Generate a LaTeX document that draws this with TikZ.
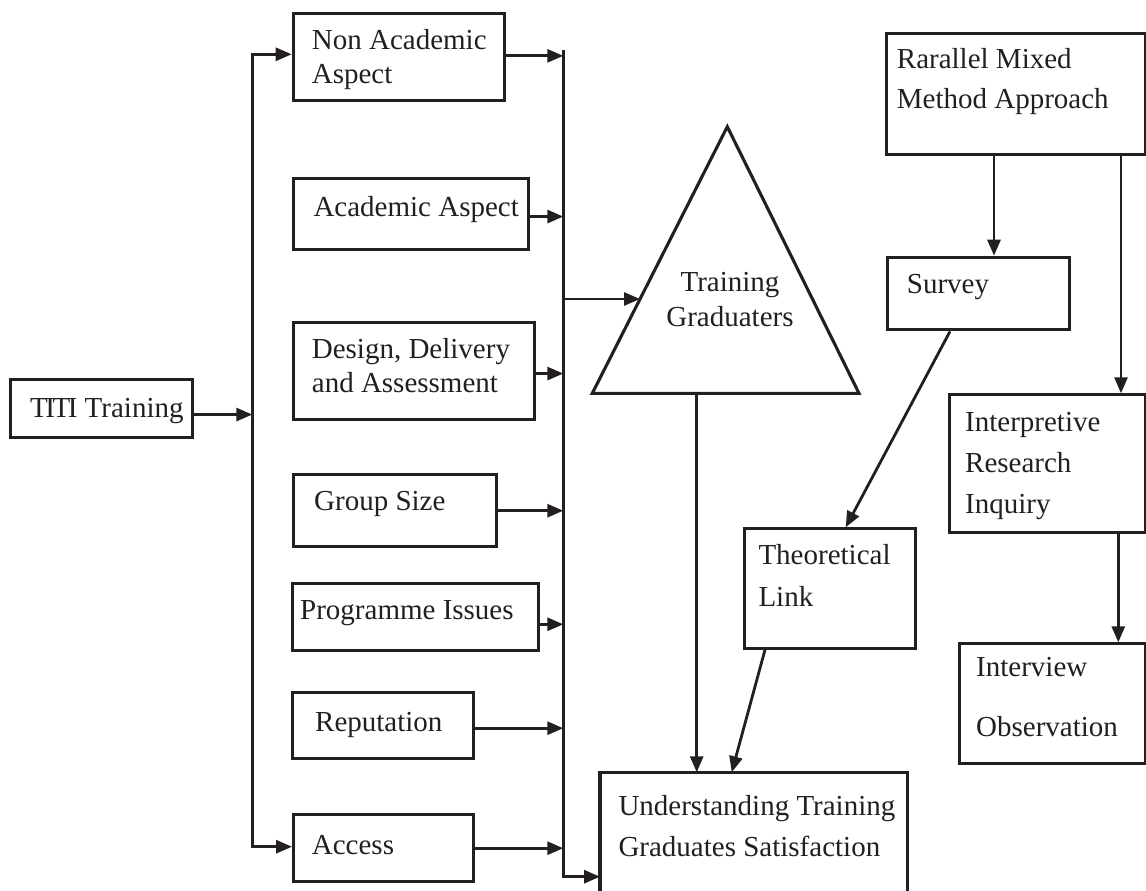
\documentclass[tikz,border=0pt]{standalone}
\usepackage{fontspec}
\setmainfont{Liberation Serif}
\usetikzlibrary{arrows.meta}
\definecolor{ink}{RGB}{35,31,32}
\begin{document}
\begin{tikzpicture}[x=1pt,y=-1pt,
  box/.style={draw=ink, line width=3.1pt, inner sep=0pt, anchor=north west},
  txt/.style={text=ink, inner sep=0pt, anchor=base west, align=left, font=\fontsize{29}{34}\selectfont},
  conn/.style={draw=ink, line width=2.8pt, line join=miter},
  arr/.style={conn, -{Triangle[length=16pt,width=13pt]}},
  arrboth/.style={conn, {Triangle[length=16pt,width=13pt]}-{Triangle[length=16pt,width=13pt]}}]
\useasboundingbox (0,0) rectangle (1146,891);

% left column (multi-line texts are placed at the baseline of their last line)
\node[box, minimum width=182pt, minimum height=57.4pt] (titi) at (8.7,378.3) {};
\node[txt] (titiT) at (30,417.3) {T\kern-2.5pt I\kern-2.5pt T\kern-2.5pt I Training};

\node[box, minimum width=211pt, minimum height=87pt] (na) at (291.7,12.3) {};
\node[txt] (naT) at (311.7,83.3) {Non Academic\\Aspect};

\node[box, minimum width=235.6pt, minimum height=71pt] (aa) at (291.7,177.3) {};
\node[txt] (aaT) at (313.3,216.7) {Academic Aspect};

\node[box, minimum width=241pt, minimum height=97pt] (dda) at (291.7,321) {};
\node[txt] (ddaT) at (311.7,392.7) {Design, Delivery\\and Assessment};

\node[box, minimum width=203.3pt, minimum height=71.7pt] (gs) at (291.7,473.3) {};
\node[txt] (gsT) at (314,510.7) {Group Size};

\node[box, minimum width=246.3pt, minimum height=67.3pt] (pi) at (291,581.7) {};
\node[txt] (piT) at (300,619.3) {Programme Issues};

\node[box, minimum width=181.3pt, minimum height=66.3pt] (rep) at (291,691) {};
\node[txt] (repT) at (315,731.7) {Reputation};

\node[box, minimum width=180.3pt, minimum height=66.7pt] (acc) at (292,813.3) {};
\node[txt] (accT) at (311.7,854.3) {Access};

% triangle
\coordinate (tA) at (727.3,126.7);
\coordinate (tL) at (592.3,393.3);
\coordinate (tR) at (859,393.3);
\draw[ink, line width=3.1pt, line join=miter] (tA) -- (tL) -- (tR) -- cycle;
\node[txt, anchor=base, align=center, font=\fontsize{29}{35}\selectfont] (tg) at (730,326.7) {Training\\Graduaters};
\coordinate (tIn) at (640,299);
\coordinate (tOut) at (696.7,393.3);

% right column
\node[box, minimum width=259pt, minimum height=121.6pt] (rar) at (885,31.7) {};
\node[txt, font=\fontsize{29}{40}\selectfont] (rarT) at (896.7,108.3) {Rarallel Mixed\\Method Approach};

\node[box, minimum width=182.3pt, minimum height=72.6pt] (sur) at (886,255.7) {};
\node[txt] (surT) at (906.7,293.3) {Survey};

\node[box, minimum width=196.3pt, minimum height=137.4pt] (irq) at (947.7,393.3) {};
\node[txt, font=\fontsize{29}{41}\selectfont] (irqT) at (965,513.3) {Interpretive\\Research\\Inquiry};

\node[box, minimum width=170.7pt, minimum height=119.4pt] (theo) at (743.3,527.3) {};
\node[txt, font=\fontsize{29}{42.5}\selectfont] (theoT) at (758.3,606.7) {Theoretical\\Link};

\node[box, minimum width=185.7pt, minimum height=119.4pt] (intv) at (958.3,642.3) {};
\node[txt, font=\fontsize{29}{60}\selectfont] (intvT) at (976,736.7) {Interview\\Observation};

% bottom box (cut off by the page edge)
\node[inner sep=0pt, anchor=north west, minimum width=306.7pt, minimum height=118.7pt] (und) at (600,772.3) {};
\draw[ink, line width=3.1pt] (und.south west) -- (und.north west) -- (und.north east) -- (und.south east);
\node[txt, font=\fontsize{29}{41.7}\selectfont] (undT) at (618.3,856.7) {Understanding Training\\Graduates Satisfaction};

% left bus
\coordinate (lbT) at (252.3,54.3);
\coordinate (lbB) at (252.3,846.7);
\draw[arrboth] (lbT -| na.west) -- (lbT) -- (lbB) -- (lbB -| acc.west);
\coordinate (tiA) at ([yshift=-6pt]titi.east);
\draw[arr] (tiA) -- (tiA -| lbT);

% right bus
\coordinate (rbT) at (563.3,50);
\coordinate (rbB) at (563.3,876.7);
\draw[arr] (rbT) -- (rbB) -- (rbB -| und.west);
\draw[arr] ([yshift=1.5pt]na.east) -- ([yshift=1.5pt]na.east -| rbT);
\draw[arr] ([yshift=-2.2pt]aa.east) -- ([yshift=-2.2pt]aa.east -| rbT);
\draw[arr] ([yshift=-2.5pt]dda.east) -- ([yshift=-2.5pt]dda.east -| rbT);
\draw[arr] (gs.east) -- (gs.east -| rbT);
\draw[arr] ([yshift=-7.4pt]pi.east) -- ([yshift=-7.4pt]pi.east -| rbT);
\draw[arr] ([yshift=-2.5pt]rep.east) -- ([yshift=-2.5pt]rep.east -| rbT);
\draw[arr] (acc.east) -- (acc.east -| rbT);
\draw[arr] (tIn -| rbT) -- (tIn);

% triangle and theoretical link to bottom box
\draw[arr] (tOut) -- (tOut |- und.north);
\draw[arr] ([xshift=21.7pt]theo.south west) -- ([xshift=131.7pt]und.north west);

% right side connectors
\coordinate (c1) at (994,0);
\coordinate (c2) at (1121,0);
\coordinate (c3) at (1118.3,0);
\draw[arr] (rar.south -| c1) -- (sur.north -| c1);
\draw[arr] (rar.south -| c2) -- (irq.north -| c2);
\draw[arr] (irq.south -| c3) -- (intv.north -| c3);
\draw[arr] ([xshift=64pt]sur.south west) -- ([xshift=102.4pt]theo.north west);
\end{tikzpicture}
\end{document}
